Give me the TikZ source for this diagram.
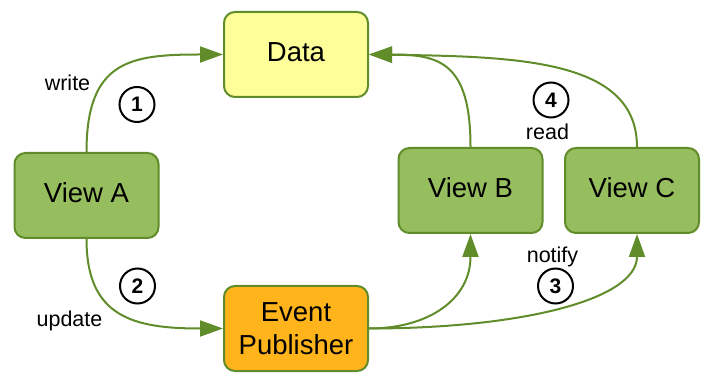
\documentclass[tikz,border=0pt]{standalone}
\usepackage{fontspec}
\setmainfont{Liberation Sans}
\usetikzlibrary{arrows.meta}
\definecolor{edgegreen}{RGB}{96,140,42}
\definecolor{viewgreen}{RGB}{151,190,94}
\definecolor{datayellow}{RGB}{255,255,153}
\definecolor{puborange}{RGB}{255,180,28}
\begin{document}
\begin{tikzpicture}[x=1pt,y=1pt,
  box/.style={draw=edgegreen, line width=2pt, rounded corners=11pt,
    minimum width=144pt, minimum height=85pt, inner sep=0pt,
    font=\fontsize{27.5}{33}\selectfont, align=center},
  oneline/.style={text height=20.6pt, text depth=6.9pt},
  view/.style={box, oneline, fill=viewgreen},
  flow/.style={draw=edgegreen, line width=2pt, -{Triangle[length=23pt,width=16pt]}},
  badge/.style={circle, draw=black, line width=2pt, minimum size=35pt, inner sep=0pt,
    font=\fontsize{21}{21}\selectfont\bfseries},
  tag/.style={font=\fontsize{21.5}{24}\selectfont, anchor=base, inner sep=0pt}
]
\useasboundingbox (0,0) rectangle (701,372);

% boxes
\node[box, oneline, fill=datayellow] (D) at (296,317.5) {Data};
\node[view] (A) at (86.5,176.5) {View A};
\node[view] (B) at (470.5,181.5) {View B};
\node[view, minimum width=134pt] (C) at (632,181.5) {View C};
\node[box, fill=puborange] (P) at (296,43.5) {Event\\Publisher};

% write / update
\draw[flow] (A.north) .. controls +(0,92) and +(-92,0) .. (D.west);
\draw[flow] (A.south) .. controls +(0,-78) and +(-90,0) .. (P.west);

% read
\draw[flow] (B.north) .. controls +(0,85) and +(70,0) .. (D.east);
\draw[flow] ([xshift=5pt]C.north) .. controls +(0,87) and +(151,-2) .. (D.east);

% notify
\draw[flow] (P.east) .. controls +(60,0) and +(0,-65) .. (B.south);
\draw[flow] (P.east) .. controls +(151,0) and +(0,-66) .. ([xshift=5pt]C.south);

% step numbers
\node[badge] (n1) at (137,267.5) {1};
\node[badge] (n2) at (137.5,86) {2};
\node[badge] (n3) at (555.5,86) {3};
\node[badge] (n4) at (551,272) {4};

% edge captions
\node[tag] (lwrite) at (67.5,281.3) {write};
\node[tag] (lupdate) at (69.5,45.3) {update};
\node[tag] (lread) at (547.5,232) {read};
\node[tag] (lnotify) at (552.5,109.3) {notify};
\end{tikzpicture}
\end{document}
